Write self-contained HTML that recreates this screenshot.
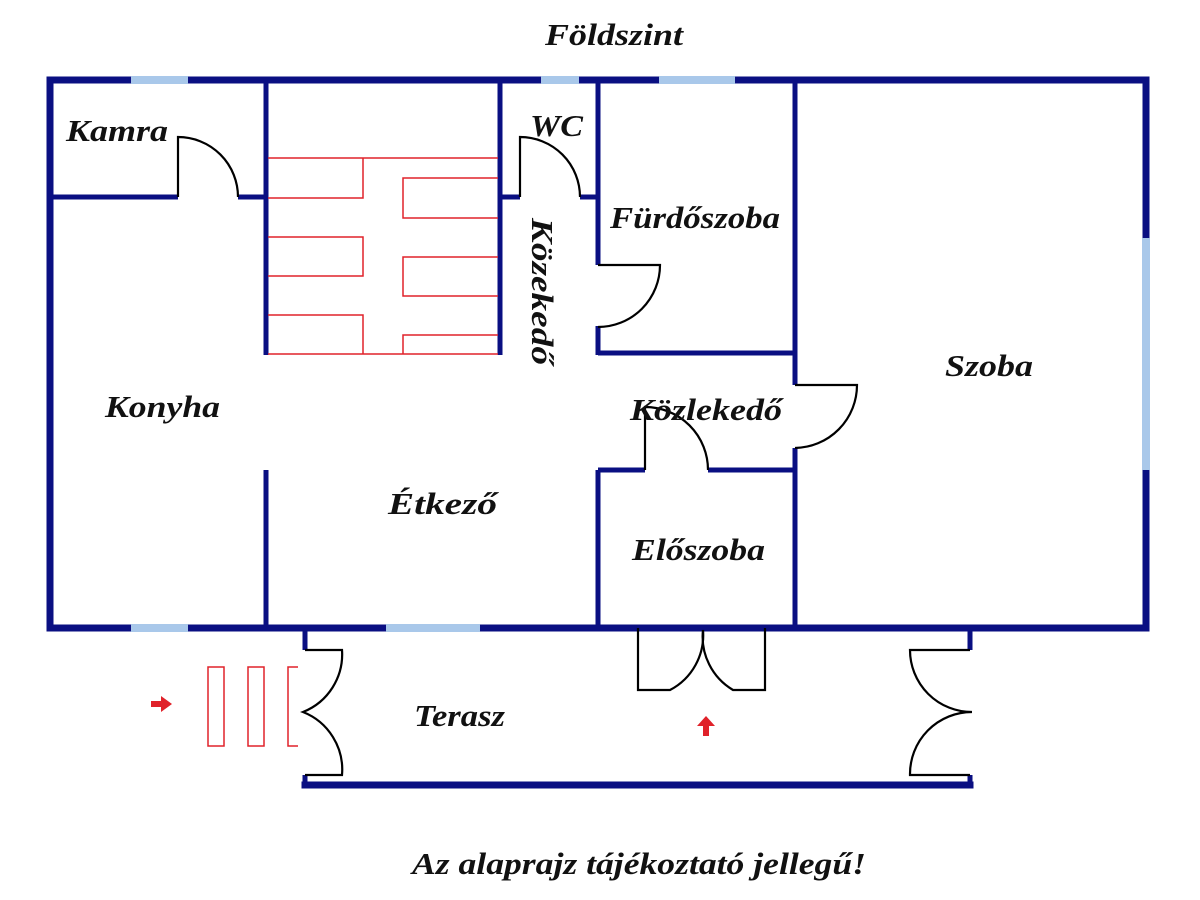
<!DOCTYPE html>
<html><head><meta charset="utf-8"><style>
html,body{margin:0;padding:0;background:#fff;width:1200px;height:900px;overflow:hidden}
text{font-family:"Liberation Serif",serif;font-weight:bold;font-style:italic;fill:#111}
</style></head><body>
<svg width="1200" height="900" viewBox="0 0 1200 900" xmlns="http://www.w3.org/2000/svg">
<g stroke="#0a0f82" stroke-width="7" stroke-linecap="square" fill="none">
<line x1="50" y1="80" x2="1146" y2="80"/>
<line x1="50" y1="80" x2="50" y2="628"/>
<line x1="1146" y1="80" x2="1146" y2="628"/>
<line x1="50" y1="628" x2="1146" y2="628"/>
<line x1="305" y1="785" x2="970" y2="785"/>
</g>
<g stroke="#a9c8ea" stroke-width="8" fill="none">
<line x1="131" y1="80" x2="188" y2="80"/>
<line x1="541" y1="80" x2="579" y2="80"/>
<line x1="659" y1="80" x2="735" y2="80"/>
<line x1="131" y1="628" x2="188" y2="628"/>
<line x1="386" y1="628" x2="480" y2="628"/>
<line x1="1146" y1="238" x2="1146" y2="470"/>
</g>
<g stroke="#0a0f82" stroke-width="5" fill="none">
<line x1="266" y1="80" x2="266" y2="355"/>
<line x1="266" y1="470" x2="266" y2="628"/>
<line x1="50" y1="197" x2="178" y2="197"/>
<line x1="238" y1="197" x2="266" y2="197"/>
<line x1="500" y1="80" x2="500" y2="355"/>
<line x1="500" y1="197" x2="520" y2="197"/>
<line x1="580" y1="197" x2="598" y2="197"/>
<line x1="598" y1="80" x2="598" y2="265"/>
<line x1="598" y1="326" x2="598" y2="355"/>
<line x1="598" y1="353" x2="795" y2="353"/>
<line x1="795" y1="80" x2="795" y2="385"/>
<line x1="795" y1="448" x2="795" y2="628"/>
<line x1="598" y1="470" x2="645" y2="470"/>
<line x1="708" y1="470" x2="795" y2="470"/>
<line x1="598" y1="470" x2="598" y2="628"/>
<line x1="305" y1="628" x2="305" y2="650"/>
<line x1="970" y1="628" x2="970" y2="650"/>
<line x1="305" y1="775" x2="305" y2="785"/>
<line x1="970" y1="775" x2="970" y2="785"/>
</g>
<g stroke="#e0222a" stroke-width="1.5" fill="none">
<line x1="268" y1="158" x2="498" y2="158"/>
<polyline points="268,198 363,198 363,158"/>
<polyline points="498,178 403,178 403,218 498,218"/>
<polyline points="268,237 363,237 363,276 268,276"/>
<polyline points="498,257 403,257 403,296 498,296"/>
<polyline points="268,315 363,315 363,354"/>
<polyline points="498,335 403,335 403,354"/>
<line x1="268" y1="354" x2="498" y2="354"/>
<rect x="208" y="667" width="16" height="79"/>
<rect x="248" y="667" width="16" height="79"/>
<polyline points="298,667 288,667 288,746 298,746"/>
</g>
<g stroke="#000" stroke-width="2.2" fill="none">
<path d="M178,197 V137 A60,60 0 0 1 238,197"/>
<path d="M520,197 V137 A60,60 0 0 1 580,197"/>
<path d="M598,265 H660 A62,62 0 0 1 598,327"/>
<path d="M795,385 H857 A63,63 0 0 1 795,448"/>
<path d="M708,470 A63,63 0 0 0 645,407 V470"/>
<path d="M638,628 V690 H670 A62,62 0 0 0 703,630"/>
<path d="M765,628 V690 H733 A62,62 0 0 1 703,630"/>
<path d="M305,650 H342 A62,62 0 0 1 303,712 A62,62 0 0 1 342,775 H305"/>
<path d="M970,650 H910 A62,62 0 0 0 972,712 A62,62 0 0 0 910,775 H970"/>
</g>
<g fill="#e0222a">
<path d="M151,701 H161 V696 L172,704 L161,712 V707 H151 Z"/>
<path d="M703,726 V736 H709 V726 H715 L706,716 L697,726 Z"/>
</g>
<g font-size="31">
<text x="545" y="45" textLength="138" lengthAdjust="spacingAndGlyphs">Földszint</text>
<text x="66" y="141" textLength="102" lengthAdjust="spacingAndGlyphs">Kamra</text>
<text x="530" y="136" textLength="53" lengthAdjust="spacingAndGlyphs">WC</text>
<text x="610" y="228" textLength="170" lengthAdjust="spacingAndGlyphs">Fürdőszoba</text>
<text x="945" y="376" textLength="88" lengthAdjust="spacingAndGlyphs">Szoba</text>
<text x="105" y="417" textLength="115" lengthAdjust="spacingAndGlyphs">Konyha</text>
<text x="630" y="420" textLength="152" lengthAdjust="spacingAndGlyphs">Közlekedő</text>
<text x="388" y="514" textLength="109" lengthAdjust="spacingAndGlyphs">Étkező</text>
<text x="632" y="560" textLength="133" lengthAdjust="spacingAndGlyphs">Előszoba</text>
<text x="414" y="726" textLength="91" lengthAdjust="spacingAndGlyphs">Terasz</text>
<text x="412" y="874" textLength="454" lengthAdjust="spacingAndGlyphs">Az alaprajz tájékoztató jellegű!</text>
<text transform="translate(532,218) rotate(90)" textLength="147" lengthAdjust="spacingAndGlyphs">Közekedő</text>
</g>
</svg>
</body></html>
